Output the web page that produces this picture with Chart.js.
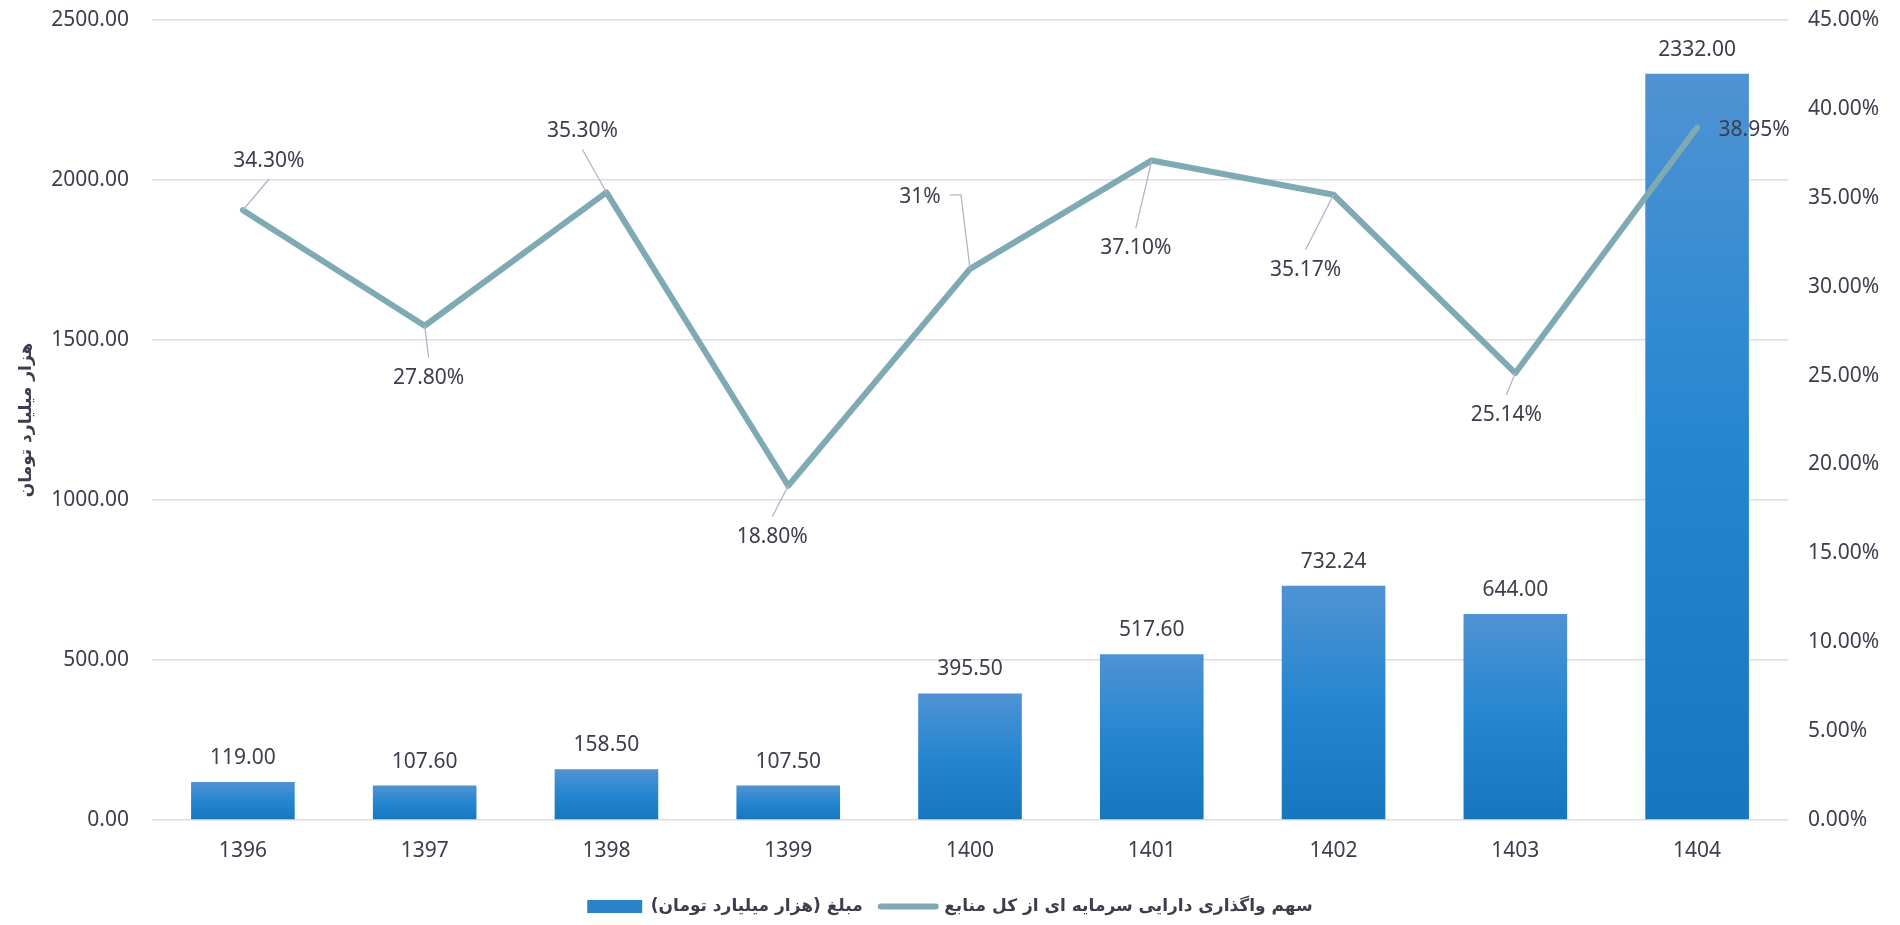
<!DOCTYPE html>
<html>
<head>
<meta charset="utf-8">
<script src="https://cdn.jsdelivr.net/npm/chart.js@4/dist/chart.umd.min.js"></script>
<style>
  html, body { margin: 0; padding: 0; background: #ffffff; }
  #wrap { width: 1900px; height: 925px; }
</style>
</head>
<body>
<div id="wrap"><canvas id="grafica" width="1900" height="925"></canvas></div>
<script>
// Datos del gráfico
const years = ['1396', '1397', '1398', '1399', '1400', '1401', '1402', '1403', '1404'];
const amounts = [119.00, 107.60, 158.50, 107.50, 395.50, 517.60, 732.24, 644.00, 2332.00];
const shares = [34.30, 27.80, 35.30, 18.80, 31, 37.10, 35.17, 25.14, 38.95];
const barName = 'مبلغ (هزار میلیارد تومان)';
const lineName = 'سهم واگذاری دارایی سرمایه ای از کل منابع';
const leftTitle = 'هزار میلیارد تومان';

// Estilos
const textColor = '#3d3d4d';
const gridColor = '#dcdce6';
const lineColor = '#7faab4';
const leaderColor = '#b6b2ca';
const numFont = '"Noto Sans", "Open Sans", sans-serif';
const faFont = '"DejaVu Sans", "Noto Sans", sans-serif';

// Desplazamiento de las etiquetas de porcentaje respecto al punto [dx, dy, tipo de guía]
const pctOffsets = [
  [26, -49, 'up'], [4, 52, 'down'], [-24, -61, 'up'], [-16, 51, 'down'], [-50, -72, 'elbow'],
  [-16, 88, 'down'], [-28, 75, 'down'], [-9, 42, 'down'], [57, 2, 'none']
];

// Plugin para las etiquetas de valores
const valueLabels = {
  id: 'valueLabels',
  afterDatasetsDraw(chart) {
    const ctx = chart.ctx;
    ctx.save();
    ctx.font = '21px ' + numFont;
    ctx.fillStyle = textColor;
    ctx.textAlign = 'center';
    ctx.textBaseline = 'middle';

    // Barras (dataset 0)
    chart.getDatasetMeta(0).data.forEach((bar, i) => {
      ctx.fillText(amounts[i].toFixed(2), bar.x, bar.y - 24);
    });

    // Línea (dataset 1) con líneas guía
    chart.getDatasetMeta(1).data.forEach((pt, i) => {
      const [dx, dy, kind] = pctOffsets[i];
      const lx = pt.x + dx, ly = pt.y + dy;
      const txt = Number.isInteger(shares[i]) ? shares[i] + '%' : shares[i].toFixed(2) + '%';
      ctx.strokeStyle = leaderColor;
      ctx.lineWidth = 1.3;
      ctx.beginPath();
      if (kind === 'up') {
        ctx.moveTo(pt.x, pt.y); ctx.lineTo(lx, ly + 18);
      } else if (kind === 'down') {
        ctx.moveTo(pt.x, pt.y); ctx.lineTo(lx, ly - 20);
      } else if (kind === 'elbow') {
        const w = ctx.measureText(txt).width;
        ctx.moveTo(pt.x, pt.y); ctx.lineTo(pt.x - 9, ly - 2); ctx.lineTo(lx + w / 2 + 9, ly - 2);
      }
      ctx.stroke();
      ctx.fillText(txt, lx, ly);
    });
    ctx.restore();
  }
};

// Degradado de cada barra
function barGradient(c) {
  if (c.type !== 'data') return '#2a84cc';
  const chart = c.chart;
  const ys = chart.scales.y;
  const top = ys.getPixelForValue(c.raw);
  const bottom = ys.getPixelForValue(0);
  if (!isFinite(top) || !isFinite(bottom) || top === bottom) return '#2a84cc';
  const g = chart.ctx.createLinearGradient(0, top, 0, bottom);
  g.addColorStop(0, '#4f93d3');
  g.addColorStop(0.5, '#2586d0');
  g.addColorStop(1, '#1676be');
  return g;
}

// Ajuste fijo del ancho de los ejes verticales
function fixVertical(width) {
  return (s) => {
    s.width = width;
    s.paddingTop = 12;
    s.paddingBottom = 12;
  };
}

const grafica = new Chart(document.getElementById('grafica').getContext('2d'), {
  data: {
    labels: years,
    datasets: [
      {
        type: 'bar',
        label: barName,
        data: amounts,
        yAxisID: 'y',
        backgroundColor: barGradient,
        categoryPercentage: 1,
        barPercentage: 0.57,
        order: 2
      },
      {
        type: 'line',
        label: lineName,
        data: shares,
        yAxisID: 'y1',
        borderColor: lineColor,
        borderWidth: 6,
        borderJoinStyle: 'round',
        borderCapStyle: 'round',
        pointRadius: 0,
        tension: 0,
        order: 1
      }
    ]
  },
  options: {
    responsive: false,
    animation: false,
    layout: { padding: { top: 20, left: 0, right: 0, bottom: 0 } },
    plugins: {
      tooltip: { enabled: false },
      legend: {
        position: 'bottom',
        textDirection: 'rtl',
        labels: {
          usePointStyle: true,
          pointStyleWidth: 55,
          boxHeight: 13,
          padding: 18,
          color: textColor,
          font: { family: faFont, size: 17, weight: 'bold' },
          generateLabels: () => [
            { text: barName, fillStyle: '#2a84cc', strokeStyle: '#2a84cc', lineWidth: 0,
              pointStyle: 'rect', datasetIndex: 0, hidden: false, fontColor: textColor },
            { text: lineName, fillStyle: lineColor, strokeStyle: lineColor, lineWidth: 6,
              lineCap: 'round', lineJoin: 'round', pointStyle: 'line', datasetIndex: 1,
              hidden: false, fontColor: textColor }
          ]
        }
      }
    },
    scales: {
      x: {
        grid: { display: false, drawTicks: false },
        border: { display: false },
        ticks: { color: textColor, font: { family: numFont, size: 21 }, padding: 18 },
        afterFit: (s) => { s.height = 60; }
      },
      y: {
        position: 'left',
        min: 0, max: 2500,
        grid: { color: gridColor, lineWidth: 1.6, drawTicks: false },
        border: { display: false },
        ticks: {
          stepSize: 500, padding: 23, color: textColor,
          font: { family: numFont, size: 21 },
          callback: (v) => v.toFixed(2)
        },
        title: {
          display: true, text: leftTitle, color: textColor,
          font: { family: faFont, size: 17, weight: 'bold' },
          padding: { top: 16, bottom: 0 }
        },
        afterFit: fixVertical(152)
      },
      y1: {
        position: 'right',
        min: 0, max: 45,
        grid: { drawOnChartArea: false, drawTicks: false },
        border: { display: false },
        ticks: {
          stepSize: 5, padding: 20, color: textColor,
          font: { family: numFont, size: 21 },
          callback: (v) => v.toFixed(2) + '%'
        },
        afterFit: fixVertical(112)
      }
    }
  },
  plugins: [valueLabels]
});
</script>
</body>
</html>
